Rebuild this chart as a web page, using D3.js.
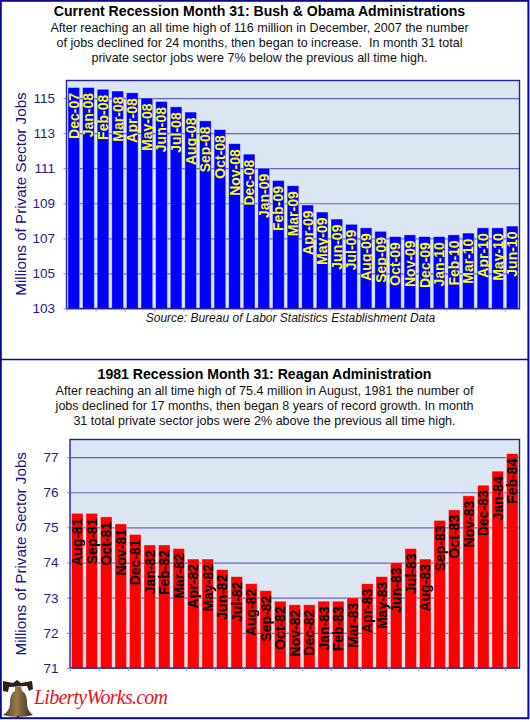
<!DOCTYPE html>
<html>
<head>
<meta charset="utf-8">
<script src="https://cdn.jsdelivr.net/npm/d3@7"></script>
<style>
    html, body { margin: 0; padding: 0; background: #fff; }
    svg { display: block; font-family: "Liberation Sans", Arial, sans-serif; }
</style>
</head>
<body>
<div id="chart"></div>
<script>
// Values, millions of jobs
const currentMonths = ["Dec-07", "Jan-08", "Feb-08", "Mar-08", "Apr-08", "May-08", "Jun-08", "Jul-08", "Aug-08", "Sep-08", "Oct-08", "Nov-08", "Dec-08", "Jan-09", "Feb-09", "Mar-09", "Apr-09", "May-09", "Jun-09", "Jul-09", "Aug-09", "Sep-09", "Oct-09", "Nov-09", "Dec-09", "Jan-10", "Feb-10", "Mar-10", "Apr-10", "May-10", "Jun-10"];
const currentJobs = [115.6, 115.6, 115.5, 115.4, 115.3, 115.0, 114.8, 114.5, 114.2, 113.7, 113.2, 112.4, 111.8, 111.0, 110.3, 110.0, 108.9, 108.5, 108.1, 107.8, 107.6, 107.4, 107.1, 107.2, 107.1, 107.1, 107.2, 107.3, 107.6, 107.6, 107.7];
const currentTicks = [103, 105, 107, 109, 111, 113, 115];

const reaganMonths = ["Aug-81", "Sep-81", "Oct-81", "Nov-81", "Dec-81", "Jan-82", "Feb-82", "Mar-82", "Apr-82", "May-82", "Jun-82", "Jul-82", "Aug-82", "Sep-82", "Oct-82", "Nov-82", "Dec-82", "Jan-83", "Feb-83", "Mar-83", "Apr-83", "May-83", "Jun-83", "Jul-83", "Aug-83", "Sep-83", "Oct-83", "Nov-83", "Dec-83", "Jan-84", "Feb-84"];
const reaganJobs = [75.4, 75.4, 75.3, 75.1, 74.8, 74.5, 74.5, 74.4, 74.1, 74.1, 73.8, 73.6, 73.4, 73.2, 72.9, 72.8, 72.8, 72.9, 72.9, 73.0, 73.4, 73.6, 74.0, 74.4, 74.1, 75.2, 75.5, 75.9, 76.2, 76.6, 77.1];
const reaganTicks = [71, 72, 73, 74, 75, 76, 77];

const currentTitle = "Current Recession Month 31: Bush & Obama Administrations";
const currentNote = [
    "After reaching an all time high of 116 million in December, 2007 the number",
    "of jobs declined for 24 months, then began to increase.  In month 31 total",
    "private sector jobs were 7% below the previous all time high."
];
const reaganTitle = "1981 Recession Month 31: Reagan Administration";
const reaganNote = [
    "After reaching an all time high of 75.4 million in August, 1981 the number of",
    "jobs declined for 17 months, then began 8 years of record growth. In month",
    "31 total private sector jobs were 2% above the previous all time high."
];

const width = 530;
const height = 722;
const navy = "#0a0a96";

const svg = d3.select("#chart")
    .append("svg")
    .attr("width", width)
    .attr("height", height)
    .attr("viewBox", `0 0 ${width} ${height}`);

// Outer frame and the line between the two panels
svg.append("rect")
    .attr("x", 0.8).attr("y", 0.8)
    .attr("width", 527.6).attr("height", 717.4)
    .attr("fill", "#fff").attr("stroke", navy).attr("stroke-width", 2);
svg.append("line")
    .attr("x1", 0).attr("x2", 529).attr("y1", 359.5).attr("y2", 359.5)
    .attr("stroke", navy).attr("stroke-width", 1.5);

function drawHeader(title, note, top, cx) {
    svg.append("text")
        .attr("x", cx).attr("y", top)
        .attr("text-anchor", "middle")
        .attr("font-size", 14.1).attr("font-weight", "bold").attr("fill", "#000")
        .text(title);
    note.forEach((line, i) => {
        svg.append("text")
            .attr("x", cx).attr("y", top + 16 + i * 15)
            .attr("text-anchor", "middle")
            .attr("font-size", 12.55).attr("fill", "#111")
            .style("white-space", "pre")
            .text(line);
    });
}

function drawPanel(opts) {
    const { left, right, top, bottom, months, jobs, ticks, domain, barColor, labelColor, labelInset } = opts;

    const x = d3.scaleBand().domain(months).range([left, right]).paddingInner(0.2).paddingOuter(0.1);
    const xEdge = d3.scaleLinear().domain([0, months.length]).range([left, right]);
    const y = d3.scaleLinear().domain(domain).range([bottom, top]);

    svg.append("rect")
        .attr("x", left).attr("y", top)
        .attr("width", right - left).attr("height", bottom - top)
        .attr("fill", "#dce6f2");

    // gridlines
    svg.append("g")
        .attr("transform", `translate(${left},0)`)
        .call(d3.axisLeft(y).tickValues(ticks).tickSize(-(right - left)).tickFormat(""))
        .call(g => g.select(".domain").remove())
        .selectAll("line")
        .attr("stroke", "#6464bc").attr("stroke-width", 1.2);

    // bars
    svg.append("g").selectAll("rect")
        .data(months)
        .enter()
        .append("rect")
        .attr("x", d => x(d))
        .attr("y", (d, i) => y(jobs[i]))
        .attr("width", x.bandwidth())
        .attr("height", (d, i) => y(domain[0]) - y(jobs[i]))
        .attr("fill", barColor)
        .attr("stroke", "#fff").attr("stroke-opacity", 0.45).attr("stroke-width", 0.8);

    // month labels run down from the top of each bar
    svg.append("g").selectAll("text")
        .data(months)
        .enter()
        .append("text")
        .attr("transform", (d, i) => `translate(${x(d) + x.bandwidth() / 2 + 5},${y(jobs[i]) + labelInset}) rotate(-90)`)
        .attr("text-anchor", "end")
        .attr("font-size", 14).attr("font-weight", "bold")
        .attr("fill", labelColor)
        .text(d => d);

    // plot frame
    svg.append("rect")
        .attr("x", left).attr("y", top)
        .attr("width", right - left).attr("height", bottom - top)
        .attr("fill", "none").attr("stroke", "#2020a0").attr("stroke-width", 1.4);

    // y axis, labels only plus a short tick
    const yAxis = svg.append("g")
        .attr("transform", `translate(${left},0)`)
        .call(d3.axisLeft(y).tickValues(ticks).tickSize(3).tickPadding(8.5).tickFormat(d3.format("d")));
    yAxis.select(".domain").remove();
    yAxis.selectAll("line").attr("stroke", "#8a8a9a");
    yAxis.selectAll("text")
        .attr("font-family", "inherit")
        .attr("font-size", 13.5)
        .attr("fill", "#1c1c86");

    // x axis has ticks at every other category boundary, no labels
    const xAxis = svg.append("g")
        .attr("transform", `translate(0,${bottom})`)
        .call(d3.axisBottom(xEdge).tickValues(d3.range(0, months.length, 2)).tickSize(3).tickFormat(""));
    xAxis.select(".domain").remove();
    xAxis.selectAll("line").attr("stroke", "#9a9aa8");

    svg.append("text")
        .attr("transform", `translate(${opts.titleX},${(top + bottom) / 2 + opts.titleShift}) rotate(-90)`)
        .attr("text-anchor", "middle")
        .attr("font-size", 15.2)
        .attr("fill", "#12127e")
        .text("Millions of Private Sector Jobs");
}

drawHeader(currentTitle, currentNote, 15.5, 259.5);
drawPanel({
    left: 66.5, right: 519.5, top: 80.5, bottom: 308.5,
    months: currentMonths, jobs: currentJobs, ticks: currentTicks, domain: [103, 116],
    barColor: "#0000ff", labelColor: "#ffff00", labelInset: 5.5,
    titleX: 25.5, titleShift: -0.5
});
svg.append("text")
    .attr("x", 290.5).attr("y", 322)
    .attr("text-anchor", "middle")
    .attr("font-size", 12).attr("font-style", "italic").attr("fill", "#111")
    .text("Source: Bureau of Labor Statistics Establishment Data");

drawHeader(reaganTitle, reaganNote, 378.5, 264.5);
drawPanel({
    left: 70, right: 519.5, top: 439.5, bottom: 668,
    months: reaganMonths, jobs: reaganJobs, ticks: reaganTicks, domain: [71, 77.5],
    barColor: "#ff0000", labelColor: "#000", labelInset: 5,
    titleX: 25.5, titleShift: 0
});

// Logo: bell and wordmark
const bellFill = svg.append("defs").append("linearGradient")
    .attr("id", "bellFill");
bellFill.append("stop").attr("offset", "0%").attr("stop-color", "#4a3a22");
bellFill.append("stop").attr("offset", "45%").attr("stop-color", "#9a7a4c");
bellFill.append("stop").attr("offset", "100%").attr("stop-color", "#33261a");

const bell = svg.append("g").attr("transform", "translate(2,680)");
bell.append("path")
    .attr("d", "M1 1 L11 3 L15 0 L19 3 L30 1 L31 9 L27 11 L25 6 L7 7 L6 12 L1 11 Z")
    .attr("fill", "#2e2018");
bell.append("path")
    .attr("d", "M13 7 L19 7 L20 11 Q25 13 25 23 Q25 31 31 35 Q16 39 1 35 Q8 31 8 23 Q8 13 13 11 Z")
    .attr("fill", "url(#bellFill)");
bell.append("path")
    .attr("d", "M14.5 36 L17.5 36 L16 39 Z")
    .attr("fill", "#2e2018");

svg.append("text")
    .attr("x", 34).attr("y", 704)
    .attr("font-family", "'Liberation Serif', serif")
    .attr("font-style", "italic")
    .attr("font-size", 20)
    .attr("fill", "#e8101c")
    .attr("textLength", 134)
    .text("LibertyWorks.com");
</script>
</body>
</html>
